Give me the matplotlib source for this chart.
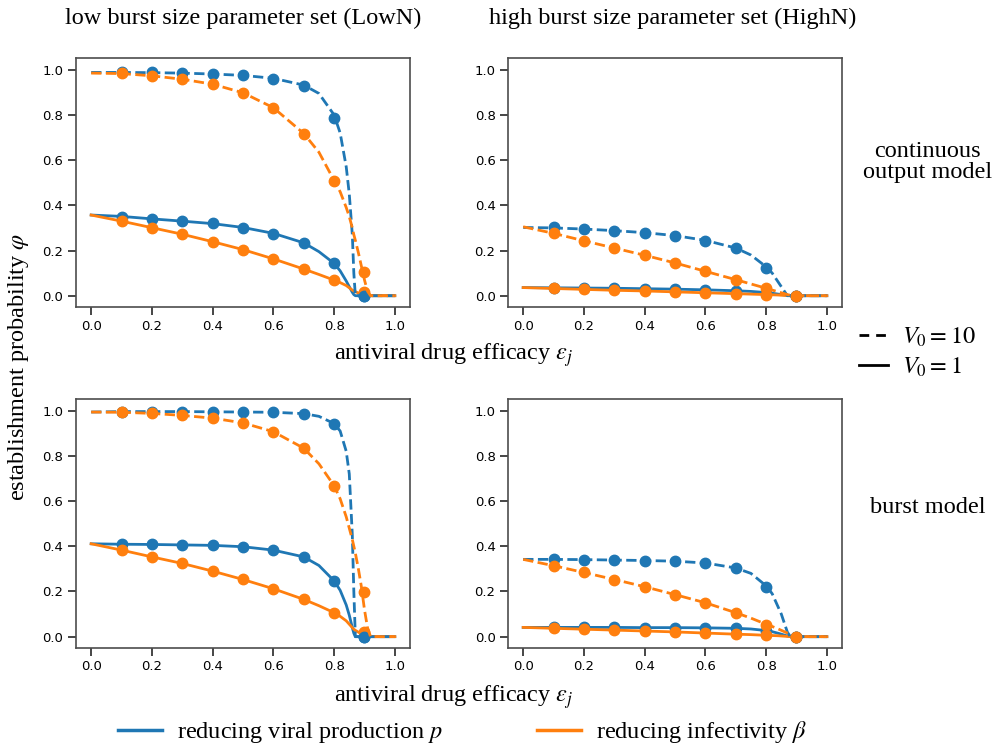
import numpy as np
import matplotlib
matplotlib.use("Agg")
import matplotlib.pyplot as plt
from matplotlib.lines import Line2D

plt.rcParams['font.family'] = ['Liberation Serif', 'DejaVu Serif']
plt.rcParams['mathtext.fontset'] = 'stix'

# simulation points
eps_sim = [0.1, 0.2, 0.3, 0.4, 0.5, 0.6, 0.7, 0.8, 0.9]
# theory curves
eps_curve = [0.0, 0.1, 0.2, 0.3, 0.4, 0.5, 0.6, 0.7, 0.75, 0.8, 0.82, 0.84,
             0.85, 0.86, 0.865, 0.87, 0.88, 0.89, 0.9, 0.91, 0.92, 1.0]

# --- continuous output model, LowN
cont_low_p10_curve = [0.988, 0.988, 0.987, 0.985, 0.981, 0.975, 0.962, 0.932, 0.895, 0.80, 0.72, 0.57,
                      0.45, 0.27, 0.10, 0.0, 0.0, 0.0, 0.0, 0.0, 0.0, 0.0]
cont_low_b10_curve = [0.985, 0.983, 0.973, 0.958, 0.936, 0.898, 0.832, 0.718, 0.635, 0.51, 0.46, 0.39,
                      0.35, 0.30, 0.27, 0.245, 0.19, 0.13, 0.07, 0.02, 0.0, 0.0]
cont_low_p1_curve = [0.357, 0.351, 0.340, 0.330, 0.319, 0.302, 0.276, 0.234, 0.195, 0.143, 0.11, 0.065,
                     0.04, 0.015, 0.005, 0.0, 0.0, 0.0, 0.0, 0.0, 0.0, 0.0]
cont_low_b1_curve = [0.357, 0.330, 0.301, 0.272, 0.239, 0.204, 0.163, 0.118, 0.094, 0.069, 0.058, 0.045,
                     0.035, 0.025, 0.021, 0.018, 0.012, 0.007, 0.003, 0.0, 0.0, 0.0]
cont_low_p10_sim = [0.988, 0.988, 0.985, 0.981, 0.975, 0.960, 0.929, 0.785, 0.0]
cont_low_b10_sim = [0.984, 0.973, 0.959, 0.937, 0.898, 0.830, 0.717, 0.509, 0.106]
cont_low_p1_sim = [0.350, 0.339, 0.329, 0.320, 0.300, 0.274, 0.233, 0.143, 0.0]
cont_low_b1_sim = [0.329, 0.301, 0.273, 0.239, 0.204, 0.162, 0.118, 0.069, 0.015]

# --- continuous output model, HighN
cont_high_p10_curve = [0.302, 0.300, 0.295, 0.288, 0.279, 0.266, 0.245, 0.211, 0.18, 0.128, 0.10, 0.06,
                       0.04, 0.02, 0.01, 0.0, 0.0, 0.0, 0.0, 0.0, 0.0, 0.0]
cont_high_b10_curve = [0.305, 0.276, 0.243, 0.211, 0.179, 0.145, 0.108, 0.071, 0.052, 0.033, 0.025, 0.017,
                       0.013, 0.009, 0.007, 0.005, 0.002, 0.0, 0.0, 0.0, 0.0, 0.0]
cont_high_p1_curve = [0.036, 0.035, 0.034, 0.033, 0.031, 0.029, 0.026, 0.022, 0.019, 0.014, 0.011, 0.007,
                      0.005, 0.003, 0.002, 0.001, 0.0, 0.0, 0.0, 0.0, 0.0, 0.0]
cont_high_b1_curve = [0.036, 0.032, 0.028, 0.024, 0.021, 0.017, 0.013, 0.009, 0.007, 0.005, 0.004, 0.003,
                      0.002, 0.0015, 0.001, 0.0008, 0.0003, 0.0, 0.0, 0.0, 0.0, 0.0]
cont_high_p10_sim = [0.302, 0.294, 0.288, 0.279, 0.265, 0.243, 0.209, 0.122, 0.0]
cont_high_b10_sim = [0.276, 0.242, 0.211, 0.180, 0.146, 0.108, 0.071, 0.032, 0.0]
cont_high_p1_sim = [0.035, 0.034, 0.033, 0.031, 0.029, 0.026, 0.022, 0.013, 0.0]
cont_high_b1_sim = [0.032, 0.028, 0.024, 0.021, 0.017, 0.013, 0.009, 0.005, 0.0]

# --- burst model, LowN
burst_low_p10_curve = [0.994, 0.996, 0.996, 0.996, 0.995, 0.994, 0.993, 0.987, 0.975, 0.943, 0.91, 0.82,
                       0.72, 0.45, 0.20, 0.0, 0.0, 0.0, 0.0, 0.0, 0.0, 0.0]
burst_low_b10_curve = [0.994, 0.993, 0.988, 0.979, 0.967, 0.946, 0.907, 0.834, 0.765, 0.668, 0.61, 0.53,
                       0.48, 0.43, 0.40, 0.37, 0.30, 0.22, 0.12, 0.04, 0.0, 0.0]
burst_low_p1_curve = [0.411, 0.409, 0.408, 0.406, 0.404, 0.398, 0.383, 0.353, 0.315, 0.247, 0.205, 0.14,
                      0.095, 0.04, 0.015, 0.0, 0.0, 0.0, 0.0, 0.0, 0.0, 0.0]
burst_low_b1_curve = [0.411, 0.383, 0.353, 0.324, 0.290, 0.253, 0.212, 0.165, 0.137, 0.106, 0.09, 0.07,
                      0.055, 0.04, 0.033, 0.028, 0.02, 0.013, 0.007, 0.002, 0.0, 0.0]
burst_low_p10_sim = [0.996, 0.996, 0.996, 0.994, 0.994, 0.993, 0.987, 0.943, 0.0]
burst_low_b10_sim = [0.993, 0.988, 0.979, 0.968, 0.946, 0.907, 0.834, 0.668, 0.197]
burst_low_p1_sim = [0.409, 0.408, 0.406, 0.404, 0.398, 0.383, 0.353, 0.247, 0.0]
burst_low_b1_sim = [0.383, 0.353, 0.324, 0.290, 0.253, 0.212, 0.165, 0.106, 0.021]

# --- burst model, HighN
burst_high_p10_curve = [0.342, 0.342, 0.341, 0.339, 0.337, 0.334, 0.326, 0.304, 0.28, 0.225, 0.19, 0.13,
                        0.10, 0.06, 0.04, 0.02, 0.0, 0.0, 0.0, 0.0, 0.0, 0.0]
burst_high_b10_curve = [0.342, 0.314, 0.284, 0.253, 0.221, 0.186, 0.150, 0.106, 0.082, 0.055, 0.045, 0.034,
                        0.028, 0.022, 0.019, 0.016, 0.01, 0.005, 0.0, 0.0, 0.0, 0.0]
burst_high_p1_curve = [0.041, 0.041, 0.041, 0.041, 0.040, 0.040, 0.039, 0.037, 0.034, 0.027, 0.022, 0.015,
                       0.011, 0.007, 0.005, 0.003, 0.001, 0.0, 0.0, 0.0, 0.0, 0.0]
burst_high_b1_curve = [0.041, 0.037, 0.033, 0.029, 0.025, 0.021, 0.016, 0.011, 0.009, 0.006, 0.005, 0.004,
                       0.003, 0.002, 0.0015, 0.001, 0.0005, 0.0, 0.0, 0.0, 0.0, 0.0]
burst_high_p10_sim = [0.342, 0.340, 0.339, 0.337, 0.333, 0.325, 0.302, 0.221, 0.0]
burst_high_b10_sim = [0.314, 0.284, 0.252, 0.221, 0.186, 0.150, 0.105, 0.053, 0.0]
burst_high_p1_sim = [0.041, 0.041, 0.041, 0.040, 0.040, 0.039, 0.037, 0.025, 0.0]
burst_high_b1_sim = [0.037, 0.033, 0.029, 0.025, 0.021, 0.016, 0.011, 0.006, 0.0]

col_titles = ['low burst size parameter set (LowN)', 'high burst size parameter set (HighN)']
row_titles = ['continuous\noutput model', 'burst model']
x_ticks = [0.0, 0.2, 0.4, 0.6, 0.8, 1.0]
y_ticks = [0.0, 0.2, 0.4, 0.6, 0.8, 1.0]

BLUE = '#1f77b4'
ORANGE = '#ff7f0e'
FS = 17.5

panels = {
    (0, 0): (cont_low_p1_curve, cont_low_b1_curve, cont_low_p10_curve, cont_low_b10_curve,
             cont_low_p1_sim, cont_low_b1_sim, cont_low_p10_sim, cont_low_b10_sim),
    (0, 1): (cont_high_p1_curve, cont_high_b1_curve, cont_high_p10_curve, cont_high_b10_curve,
             cont_high_p1_sim, cont_high_b1_sim, cont_high_p10_sim, cont_high_b10_sim),
    (1, 0): (burst_low_p1_curve, burst_low_b1_curve, burst_low_p10_curve, burst_low_b10_curve,
             burst_low_p1_sim, burst_low_b1_sim, burst_low_p10_sim, burst_low_b10_sim),
    (1, 1): (burst_high_p1_curve, burst_high_b1_curve, burst_high_p10_curve, burst_high_b10_curve,
             burst_high_p1_sim, burst_high_b1_sim, burst_high_p10_sim, burst_high_b10_sim),
}

fig = plt.figure(figsize=(10.01, 7.51), dpi=100)
lefts = [0.0759, 0.5075]
bottoms = [0.5912, 0.1372]
w, h = 0.3337, 0.3310

for (r, c), data in panels.items():
    ax = fig.add_axes([lefts[c], bottoms[r], w, h])
    p1c, b1c, p10c, b10c, p1s, b1s, p10s, b10s = data
    # V0 = 1 first, then V0 = 10 on top
    for pc, bc, ps, bs, ls in [(p1c, b1c, p1s, b1s, '-'), (p10c, b10c, p10s, b10s, '--')]:
        ax.plot(eps_curve, pc, color=BLUE, ls=ls, lw=2)
        ax.plot(eps_sim, ps, 'o', color=BLUE, ms=7.5)
        ax.plot(eps_curve, bc, color=ORANGE, ls=ls, lw=2)
        ax.plot(eps_sim, bs, 'o', color=ORANGE, ms=7.5)
    ax.set_xlim(-0.05, 1.05)
    ax.set_ylim(-0.05, 1.05)
    ax.set_xticks(x_ticks)
    ax.set_yticks(y_ticks)
    ax.set_xticklabels([f'{t:.1f}' for t in x_ticks], fontfamily='DejaVu Sans', fontsize=9.5)
    ax.set_yticklabels([f'{t:.1f}' for t in y_ticks], fontfamily='DejaVu Sans', fontsize=9.5)
    ax.tick_params(direction='out', length=5.5, width=1.2, color='0.15')
    for s in ax.spines.values():
        s.set_color('0.3')
        s.set_linewidth(1.2)

for c in range(2):
    fig.text([0.243, 0.672][c], 0.976, col_titles[c], ha='center', va='center', fontsize=FS)
fig.text(0.927, 0.784, row_titles[0], ha='center', va='center', fontsize=FS, linespacing=1.0)
fig.text(0.927, 0.324, row_titles[1], ha='center', va='center', fontsize=FS)
fig.text(0.453, 0.527, r'antiviral drug efficacy $\varepsilon_j$', ha='center', va='center', fontsize=FS)
fig.text(0.453, 0.072, r'antiviral drug efficacy $\varepsilon_j$', ha='center', va='center', fontsize=FS)
fig.text(0.018, 0.512, r'establishment probability $\varphi$', ha='center', va='center',
         rotation=90, fontsize=FS)

v0_handles = [Line2D([], [], color='k', ls=(0, (3.5, 2.5)), lw=2), Line2D([], [], color='k', ls='-', lw=2)]
fig.legend(v0_handles, [r'$V_0 = 10$', r'$V_0 = 1$'], loc='center left',
           bbox_to_anchor=(0.836, 0.531), frameon=False, fontsize=FS, handlelength=1.2,
           handletextpad=0.6, labelspacing=0.25)

col_handles = [Line2D([], [], color=BLUE, lw=2.5), Line2D([], [], color=ORANGE, lw=2.5)]
fig.legend(col_handles, [r'reducing viral production $p$', r'reducing infectivity $\beta$'],
           loc='center', bbox_to_anchor=(0.462, 0.025), ncol=2, frameon=False, fontsize=FS,
           handlelength=1.8, handletextpad=0.6, columnspacing=3.9)

fig.savefig('out.png', dpi=100)
